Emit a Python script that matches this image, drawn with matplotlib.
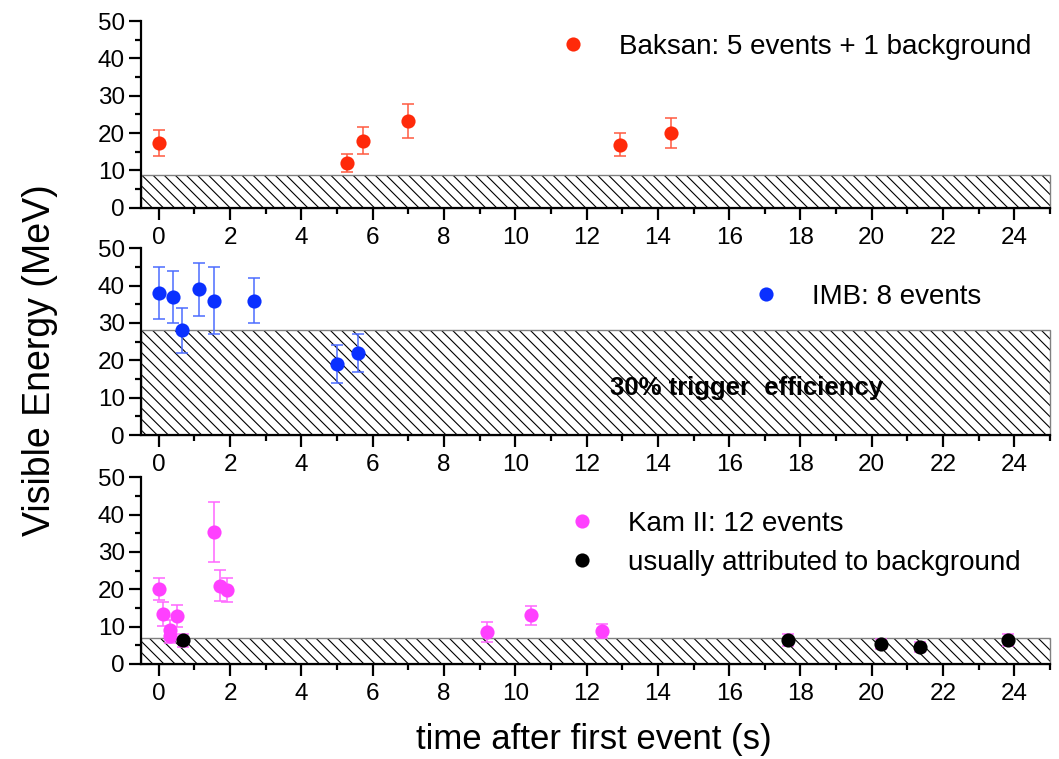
import matplotlib
matplotlib.use("Agg")
import matplotlib.pyplot as plt
from matplotlib.lines import Line2D
from matplotlib.patches import Rectangle
from matplotlib.ticker import MultipleLocator

plt.rcParams['font.family'] = ['Liberation Sans', 'DejaVu Sans']
plt.rcParams['hatch.linewidth'] = 0.8

# ---------------- data ----------------
baksan_t = [0.0, 5.27, 5.72, 7.0, 12.95, 14.38]
baksan_E = [17.3, 12.0, 17.9, 23.2, 16.9, 20.0]
baksan_err = [3.5, 2.4, 3.6, 4.6, 3.0, 4.0]
baksan_threshold = 8.8

imb_t = [0.0, 0.41, 0.65, 1.14, 1.56, 2.68, 5.01, 5.58]
imb_E = [38, 37, 28, 39, 36, 36, 19, 22]
imb_err = [7, 7, 6, 7, 9, 6, 5, 5]
imb_threshold = 28.0

kam_t = [0.0, 0.107, 0.303, 0.324, 0.507, 1.541, 1.728, 1.915, 9.219, 10.433, 12.439]
kam_E = [20.0, 13.5, 7.5, 9.2, 12.8, 35.4, 21.0, 19.8, 8.6, 13.0, 8.9]
kam_err = [2.9, 3.2, 2.0, 2.7, 2.9, 8.0, 4.2, 3.2, 2.7, 2.6, 1.9]
bkg_t = [0.686, 17.641, 20.257, 21.355, 23.814]
bkg_E = [6.3, 6.5, 5.4, 4.6, 6.5]
bkg_err = [1.7, 1.6, 1.4, 1.3, 1.6]
kam_threshold = 7.0

x_ticks = list(range(0, 25, 2))
y_ticks = [0, 10, 20, 30, 40, 50]

label_baksan = "Baksan: 5 events + 1 background"
label_imb = "IMB: 8 events"
label_kam = "Kam II: 12 events"
label_bkg = "usually attributed to background"
trigger_text = "30% trigger  efficiency"

# ---------------- style ----------------
RED, RED_E = '#FF2A0A', '#FF5A40'
BLUE, BLUE_E = '#0A30FF', '#4C6CFF'
PINK, PINK_E = '#FF40FF', '#FF66FF'
MS = 10.2

fig = plt.figure(figsize=(10.59, 7.59), dpi=100)
W, H = 1059.0, 759.0
left = 141 / W
width = (1050 - 141) / W
h = 186.7 / H
bottoms = [1 - 207.7 / H, 1 - 435.0 / H, 1 - 664.0 / H]
axes = [fig.add_axes([left, b, width, h]) for b in bottoms]


def style(ax, thr):
    ax.set_xlim(-0.5, 25)
    ax.set_ylim(0, 50)
    ax.set_xticks(x_ticks)
    ax.set_yticks(y_ticks)
    ax.xaxis.set_minor_locator(MultipleLocator(1))
    ax.yaxis.set_minor_locator(MultipleLocator(5))
    for s in ['top', 'right']:
        ax.spines[s].set_visible(False)
    for s in ['left', 'bottom']:
        ax.spines[s].set_linewidth(1.6)
    ax.tick_params(which='major', direction='out', length=8.6, width=1.6,
                   labelsize=17.5, pad=5)
    ax.tick_params(which='minor', direction='out', length=4.6, width=1.6)
    ax.tick_params(axis='y', which='major', pad=3)
    # hatched threshold band
    ax.add_patch(Rectangle((-0.5, 0), 25.5, thr, facecolor='none',
                           edgecolor='black', hatch='\\\\\\', linewidth=0,
                           zorder=1))
    ax.add_patch(Rectangle((-0.5, 0), 25.5, thr, facecolor='none',
                           edgecolor='#808080', linewidth=1.0, zorder=1.1,
                           clip_on=False))


def eb(ax, t, E, err, mc, ec, z=3):
    ax.errorbar(t, E, yerr=err, fmt='none', ecolor=ec, elinewidth=1.1,
                capsize=4, capthick=1.1, zorder=z)
    ax.plot(t, E, 'o', color=mc, markersize=MS, markeredgewidth=0, zorder=z + 1)


def proxy(c):
    return Line2D([], [], marker='o', linestyle='none', color=c,
                  markersize=MS, markeredgewidth=0)


leg_kw = dict(frameon=False, fontsize=20, handlelength=1.0,
              handletextpad=1.15, borderpad=0, borderaxespad=0,
              loc='center left')

ax1, ax2, ax3 = axes
style(ax1, baksan_threshold)
eb(ax1, baksan_t, baksan_E, baksan_err, RED, RED_E)
ax1.legend([proxy(RED)], [label_baksan], bbox_to_anchor=(0.460, 0.861), **leg_kw)

style(ax2, imb_threshold)
eb(ax2, imb_t, imb_E, imb_err, BLUE, BLUE_E)
ax2.legend([proxy(BLUE)], [label_imb], bbox_to_anchor=(0.672, 0.739), **leg_kw)
ax2.text(16.49, 12.6, trigger_text, fontsize=18.5, fontweight='bold',
         ha='center', va='center', zorder=5)

style(ax3, kam_threshold)
eb(ax3, kam_t, kam_E, kam_err, PINK, PINK_E)
ax3.errorbar(bkg_t, bkg_E, yerr=bkg_err, fmt='none', ecolor=PINK_E,
             elinewidth=1.1, capsize=4, capthick=1.1, zorder=3)
ax3.plot(bkg_t, bkg_E, 'o', color='black', markersize=MS,
         markeredgewidth=0, zorder=4)
ax3.legend([proxy(PINK), proxy('black')], [label_kam, label_bkg],
           bbox_to_anchor=(0.470, 0.645), labelspacing=0.47, **leg_kw)

fig.text(0.038, 0.526, "Visible Energy (MeV)", rotation=90, fontsize=27,
         ha='center', va='center')
fig.text(0.561, 0.013, "time after first event (s)", fontsize=25,
         ha='center', va='baseline')

fig.savefig('out.png', dpi=100)
